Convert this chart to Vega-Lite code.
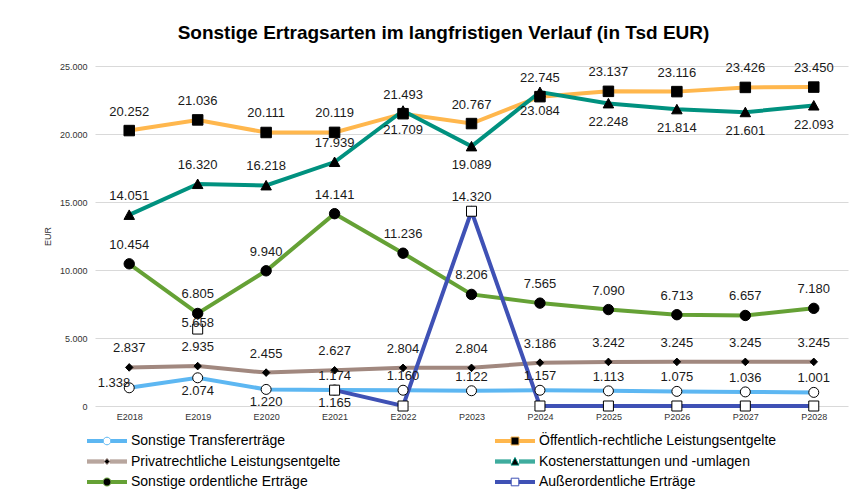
{
  "$schema": "https://vega.github.io/schema/vega-lite/v6.json",
  "width": 753,
  "height": 340,
  "autosize": {"type": "none"},
  "padding": {"left": 95, "top": 66, "right": 20, "bottom": 94},
  "background": "white",
  "title": {
    "text": "Sonstige Ertragsarten im langfristigen Verlauf (in Tsd EUR)",
    "font": "Liberation Sans",
    "fontSize": 19,
    "fontWeight": "bold",
    "color": "#000000",
    "anchor": "middle",
    "dx": -28,
    "offset": 19
  },
  "config": {
    "locale": {"number": {"decimal": ",", "thousands": ".", "grouping": [3], "currency": ["", " €"]}},
    "view": {"stroke": null},
    "font": "Liberation Sans",
    "axis": {"labelFont": "Liberation Sans", "titleFont": "Liberation Sans", "labelColor": "#333333", "titleColor": "#333333"}
  },
  "data": {
    "values": [
      {"period": "E2018", "Sonstige Transfererträge": 1338, "Öffentlich-rechtliche Leistungsentgelte": 20252, "Privatrechtliche Leistungsentgelte": 2837, "Kostenerstattungen und -umlagen": 14051, "Sonstige ordentliche Erträge": 10454, "Außerordentliche Erträge": null},
      {"period": "E2019", "Sonstige Transfererträge": 2074, "Öffentlich-rechtliche Leistungsentgelte": 21036, "Privatrechtliche Leistungsentgelte": 2935, "Kostenerstattungen und -umlagen": 16320, "Sonstige ordentliche Erträge": 6805, "Außerordentliche Erträge": 5658},
      {"period": "E2020", "Sonstige Transfererträge": 1220, "Öffentlich-rechtliche Leistungsentgelte": 20111, "Privatrechtliche Leistungsentgelte": 2455, "Kostenerstattungen und -umlagen": 16218, "Sonstige ordentliche Erträge": 9940, "Außerordentliche Erträge": null},
      {"period": "E2021", "Sonstige Transfererträge": 1174, "Öffentlich-rechtliche Leistungsentgelte": 20119, "Privatrechtliche Leistungsentgelte": 2627, "Kostenerstattungen und -umlagen": 17939, "Sonstige ordentliche Erträge": 14141, "Außerordentliche Erträge": 1165},
      {"period": "E2022", "Sonstige Transfererträge": 1160, "Öffentlich-rechtliche Leistungsentgelte": 21493, "Privatrechtliche Leistungsentgelte": 2804, "Kostenerstattungen und -umlagen": 21709, "Sonstige ordentliche Erträge": 11236, "Außerordentliche Erträge": 0},
      {"period": "P2023", "Sonstige Transfererträge": 1122, "Öffentlich-rechtliche Leistungsentgelte": 20767, "Privatrechtliche Leistungsentgelte": 2804, "Kostenerstattungen und -umlagen": 19089, "Sonstige ordentliche Erträge": 8206, "Außerordentliche Erträge": 14320},
      {"period": "P2024", "Sonstige Transfererträge": 1157, "Öffentlich-rechtliche Leistungsentgelte": 22745, "Privatrechtliche Leistungsentgelte": 3186, "Kostenerstattungen und -umlagen": 23084, "Sonstige ordentliche Erträge": 7565, "Außerordentliche Erträge": 0},
      {"period": "P2025", "Sonstige Transfererträge": 1113, "Öffentlich-rechtliche Leistungsentgelte": 23137, "Privatrechtliche Leistungsentgelte": 3242, "Kostenerstattungen und -umlagen": 22248, "Sonstige ordentliche Erträge": 7090, "Außerordentliche Erträge": 0},
      {"period": "P2026", "Sonstige Transfererträge": 1075, "Öffentlich-rechtliche Leistungsentgelte": 23116, "Privatrechtliche Leistungsentgelte": 3245, "Kostenerstattungen und -umlagen": 21814, "Sonstige ordentliche Erträge": 6713, "Außerordentliche Erträge": 0},
      {"period": "P2027", "Sonstige Transfererträge": 1036, "Öffentlich-rechtliche Leistungsentgelte": 23426, "Privatrechtliche Leistungsentgelte": 3245, "Kostenerstattungen und -umlagen": 21601, "Sonstige ordentliche Erträge": 6657, "Außerordentliche Erträge": 0},
      {"period": "P2028", "Sonstige Transfererträge": 1001, "Öffentlich-rechtliche Leistungsentgelte": 23450, "Privatrechtliche Leistungsentgelte": 3245, "Kostenerstattungen und -umlagen": 22093, "Sonstige ordentliche Erträge": 7180, "Außerordentliche Erträge": 0}
    ]
  },
  "transform": [
    {"fold": ["Sonstige Transfererträge", "Öffentlich-rechtliche Leistungsentgelte", "Privatrechtliche Leistungsentgelte", "Kostenerstattungen und -umlagen", "Sonstige ordentliche Erträge", "Außerordentliche Erträge"], "as": ["series", "value"]}
  ],
  "encoding": {
    "x": {
      "field": "period",
      "type": "ordinal",
      "scale": {"type": "point", "padding": 0.5},
      "axis": {"title": null, "labelAngle": 0, "ticks": false, "domain": false, "grid": false, "labelFontSize": 9, "labelPadding": 6}
    },
    "y": {
      "field": "value",
      "type": "quantitative",
      "scale": {"domain": [0, 25000], "nice": false},
      "axis": {"title": "EUR", "values": [0, 5000, 10000, 15000, 20000, 25000], "format": ",d", "labelFontSize": 9, "titleFontSize": 9, "titleFontWeight": "normal", "grid": true, "gridColor": "#d9d9d9", "domain": false, "ticks": false, "labelPadding": 8, "titlePadding": 7}
    }
  },
  "layer": [
    {
      "mark": {"type": "line", "strokeWidth": 4},
      "encoding": {
        "color": {
          "field": "series",
          "type": "nominal",
          "sort": ["Sonstige Transfererträge", "Privatrechtliche Leistungsentgelte", "Sonstige ordentliche Erträge", "Öffentlich-rechtliche Leistungsentgelte", "Kostenerstattungen und -umlagen", "Außerordentliche Erträge"],
          "scale": {"range": ["#5DB7F2", "#A1887F", "#65A135", "#FFB74D", "#00917F", "#3F51B5"]},
          "legend": null
        }
      }
    },
    {
      "mark": {"type": "point", "filled": true, "opacity": 0, "size": 64, "strokeWidth": 1},
      "encoding": {
        "stroke": {
          "field": "series",
          "type": "nominal",
          "scale": {
            "domain": ["Sonstige Transfererträge", "Privatrechtliche Leistungsentgelte", "Sonstige ordentliche Erträge", "Öffentlich-rechtliche Leistungsentgelte", "Kostenerstattungen und -umlagen", "Außerordentliche Erträge"],
            "range": ["#5DB7F2", "#A1887F", "#65A135", "#FFB74D", "#00917F", "#3F51B5"]
          },
          "legend": {"title": null, "orient": "none", "legendX": -8, "legendY": 368, "columns": 2, "rowPadding": 6.5, "columnPadding": 124, "gridAlign": "all", "symbolSize": 64, "symbolOffset": 13, "symbolStrokeWidth": 1, "symbolOpacity": 1, "labelFontSize": 14, "labelFont": "Liberation Sans", "labelColor": "#000000", "labelOffset": 17, "labelLimit": 400}
        },
        "fill": {
          "field": "series",
          "type": "nominal",
          "scale": {
            "domain": ["Sonstige Transfererträge", "Privatrechtliche Leistungsentgelte", "Sonstige ordentliche Erträge", "Öffentlich-rechtliche Leistungsentgelte", "Kostenerstattungen und -umlagen", "Außerordentliche Erträge"],
            "range": ["#ffffff", "#000000", "#000000", "#000000", "#000000", "#ffffff"]
          },
          "legend": {"title": null, "orient": "none", "legendX": -8, "legendY": 368, "columns": 2, "rowPadding": 6.5, "columnPadding": 124, "gridAlign": "all", "symbolSize": 64, "symbolOffset": 13, "symbolStrokeWidth": 1, "symbolOpacity": 1, "labelFontSize": 14, "labelFont": "Liberation Sans", "labelColor": "#000000", "labelOffset": 17, "labelLimit": 400}
        },
        "shape": {
          "field": "series",
          "type": "nominal",
          "scale": {
            "domain": ["Sonstige Transfererträge", "Privatrechtliche Leistungsentgelte", "Sonstige ordentliche Erträge", "Öffentlich-rechtliche Leistungsentgelte", "Kostenerstattungen und -umlagen", "Außerordentliche Erträge"],
            "range": [
              "M-5,-0.375H-0.95M0.95,-0.375H5M-5,-0.125H-0.95M0.95,-0.125H5M-5,0.125H-0.95M0.95,0.125H5M-5,0.375H-0.95M0.95,0.375H5M-0.95,0A0.95,0.95,0,1,0,0.95,0A0.95,0.95,0,1,0,-0.95,0Z",
              "M-5,-0.375H-0.72M0.72,-0.375H5M-5,-0.125H-0.72M0.72,-0.125H5M-5,0.125H-0.72M0.72,0.125H5M-5,0.375H-0.72M0.72,0.375H5M0,-0.75L0.72,0L0,0.75L-0.72,0Z",
              "M-5,-0.375H-1M1,-0.375H5M-5,-0.125H-1M1,-0.125H5M-5,0.125H-1M1,0.125H5M-5,0.375H-1M1,0.375H5M-1,0A1,1,0,1,0,1,0A1,1,0,1,0,-1,0Z",
              "M-5,-0.375H-1M1,-0.375H5M-5,-0.125H-1M1,-0.125H5M-5,0.125H-1M1,0.125H5M-5,0.375H-1M1,0.375H5M-1,-1H1V1H-1Z",
              "M-5,-0.375H-1M1,-0.375H5M-5,-0.125H-1M1,-0.125H5M-5,0.125H-1M1,0.125H5M-5,0.375H-1M1,0.375H5M0,-1L1,0.9L-1,0.9Z",
              "M-5,-0.375H-0.95M0.95,-0.375H5M-5,-0.125H-0.95M0.95,-0.125H5M-5,0.125H-0.95M0.95,0.125H5M-5,0.375H-0.95M0.95,0.375H5M-0.95,-0.95H0.95V0.95H-0.95Z"
            ]
          },
          "legend": {"title": null, "orient": "none", "legendX": -8, "legendY": 368, "columns": 2, "rowPadding": 6.5, "columnPadding": 124, "gridAlign": "all", "symbolSize": 64, "symbolOffset": 13, "symbolStrokeWidth": 1, "symbolOpacity": 1, "labelFontSize": 14, "labelFont": "Liberation Sans", "labelColor": "#000000", "labelOffset": 17, "labelLimit": 400}
        }
      }
    },
    {
      "transform": [{"filter": "datum.series == 'Sonstige Transfererträge'"}],
      "mark": {"type": "point", "shape": "M-1.25,0A1.25,1.25,0,1,0,1.25,0A1.25,1.25,0,1,0,-1.25,0Z", "size": 64, "filled": true, "fill": "#ffffff", "stroke": "#000000", "strokeWidth": 1, "opacity": 1}
    },
    {
      "transform": [{"filter": "datum.series == 'Öffentlich-rechtliche Leistungsentgelte'"}],
      "mark": {"type": "point", "shape": "M-1.3125,-1.3125H1.3125V1.3125H-1.3125Z", "size": 64, "filled": true, "fill": "#000000", "stroke": "#000000", "strokeWidth": 1, "opacity": 1}
    },
    {
      "transform": [{"filter": "datum.series == 'Privatrechtliche Leistungsentgelte'"}],
      "mark": {"type": "point", "shape": "M0,-0.95L0.925,0L0,0.95L-0.925,0Z", "size": 64, "filled": true, "fill": "#000000", "stroke": "#000000", "strokeWidth": 1, "opacity": 1}
    },
    {
      "transform": [{"filter": "datum.series == 'Kostenerstattungen und -umlagen'"}],
      "mark": {"type": "point", "shape": "M0,-1.25L1.3125,1.125L-1.3125,1.125Z", "size": 64, "filled": true, "fill": "#000000", "stroke": "#000000", "strokeWidth": 1, "opacity": 1}
    },
    {
      "transform": [{"filter": "datum.series == 'Sonstige ordentliche Erträge'"}],
      "mark": {"type": "point", "shape": "M-1.3,0A1.3,1.3,0,1,0,1.3,0A1.3,1.3,0,1,0,-1.3,0Z", "size": 64, "filled": true, "fill": "#000000", "stroke": "#000000", "strokeWidth": 1, "opacity": 1}
    },
    {
      "transform": [{"filter": "datum.series == 'Außerordentliche Erträge'"}],
      "mark": {"type": "point", "shape": "M-1.25,-1.25H1.25V1.25H-1.25Z", "size": 64, "filled": true, "fill": "#ffffff", "stroke": "#000000", "strokeWidth": 1, "opacity": 1}
    },
    {
      "transform": [{"filter": "datum.series == 'Öffentlich-rechtliche Leistungsentgelte' || datum.series == 'Privatrechtliche Leistungsentgelte' || datum.series == 'Sonstige ordentliche Erträge' || (datum.series == 'Kostenerstattungen und -umlagen' && indexof(['E2018','E2019','E2020','E2021'], datum.period) >= 0)"}],
      "mark": {"type": "text", "dy": -19, "fontSize": 13, "font": "Liberation Sans", "color": "#1a1a1a", "baseline": "middle"},
      "encoding": {"text": {"field": "value", "type": "quantitative", "format": ",d"}}
    },
    {
      "transform": [{"filter": "datum.series == 'Kostenerstattungen und -umlagen' && indexof(['E2018','E2019','E2020','E2021'], datum.period) < 0"}],
      "mark": {"type": "text", "dy": 19, "fontSize": 13, "font": "Liberation Sans", "color": "#1a1a1a", "baseline": "middle"},
      "encoding": {"text": {"field": "value", "type": "quantitative", "format": ",d"}}
    },
    {
      "transform": [{"filter": "(datum.series == 'Sonstige Transfererträge' && indexof(['E2018','E2019','E2020'], datum.period) < 0) || (datum.series == 'Außerordentliche Erträge' && datum.period == 'P2023')"}],
      "mark": {"type": "text", "dy": -14, "fontSize": 13, "font": "Liberation Sans", "color": "#1a1a1a", "baseline": "middle"},
      "encoding": {"text": {"field": "value", "type": "quantitative", "format": ",d"}}
    },
    {
      "transform": [{"filter": "(datum.series == 'Sonstige Transfererträge' && indexof(['E2019','E2020'], datum.period) >= 0) || (datum.series == 'Außerordentliche Erträge' && datum.period == 'E2021')"}],
      "mark": {"type": "text", "dy": 13, "fontSize": 13, "font": "Liberation Sans", "color": "#1a1a1a", "baseline": "middle"},
      "encoding": {"text": {"field": "value", "type": "quantitative", "format": ",d"}}
    },
    {
      "transform": [{"filter": "datum.series == 'Sonstige Transfererträge' && datum.period == 'E2018'"}],
      "mark": {"type": "text", "dx": 1, "dy": -5, "align": "right", "fontSize": 13, "font": "Liberation Sans", "color": "#1a1a1a", "baseline": "middle"},
      "encoding": {"text": {"field": "value", "type": "quantitative", "format": ",d"}}
    },
    {
      "transform": [{"filter": "datum.series == 'Außerordentliche Erträge' && datum.period == 'E2019'"}],
      "mark": {"type": "text", "dy": -6, "fontSize": 13, "font": "Liberation Sans", "color": "#1a1a1a", "baseline": "middle"},
      "encoding": {"text": {"field": "value", "type": "quantitative", "format": ",d"}}
    }
  ]
}
